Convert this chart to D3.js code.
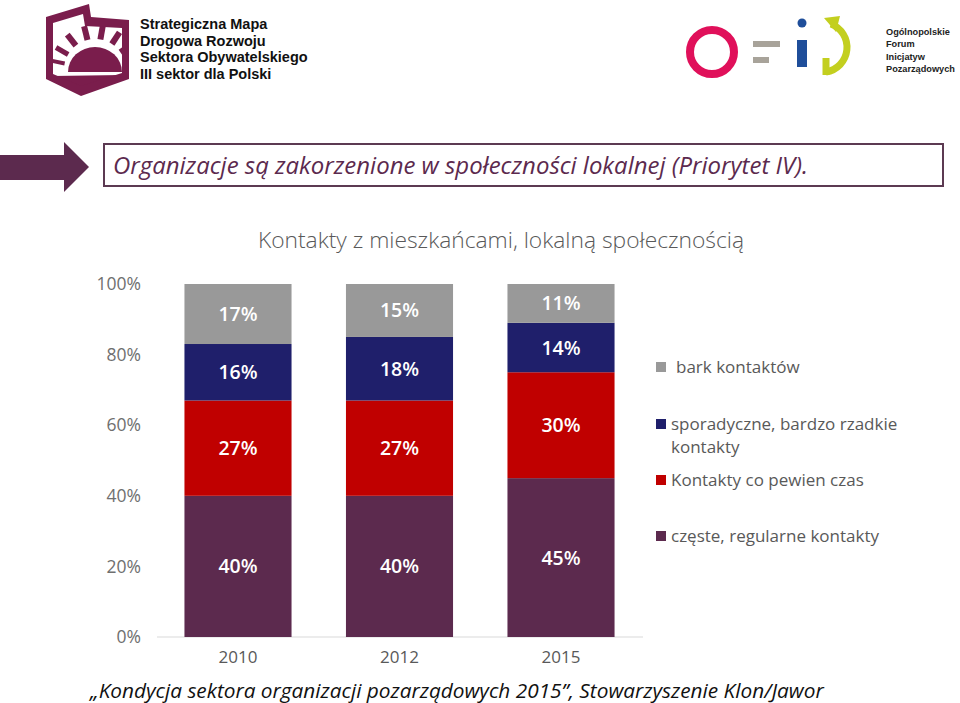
<!DOCTYPE html>
<html><head><meta charset="utf-8">
<script src="https://cdn.jsdelivr.net/npm/d3@7"></script>
<style>
body{margin:0;background:#fff;}
svg{display:block;}
</style></head>
<body>
<svg id="c" width="960" height="703"></svg>
<script>
const years = ["2010","2012","2015"];
const seriesNames = ["częste, regularne kontakty","Kontakty co pewien czas","sporadyczne, bardzo rzadkie kontakty","bark kontaktów"];
const czeste = [40,40,45];
const coPewien = [27,27,30];
const sporadyczne = [16,18,14];
const brak = [17,15,11];
const yTicks = [0,20,40,60,80,100];
const colors = ["#5c2a4e","#c00000","#1f1f6b","#999999"];

const svg = d3.select("#c");
const font = "'Open Sans', 'Noto Sans', sans-serif";
const logoFont = "'Liberation Sans', Arial, sans-serif";

// ---------- Logos ----------
const lg = svg.append("g");
const plum = "#7a1d4c";
lg.append("path").attr("d","M68,72 A27,25 0 0 1 122,72 Z").attr("fill",plum);
lg.append("path").attr("d","M53,76 L122,75 L122,79 L81,90 L53,80 Z").attr("fill",plum);
const rays = [[-168,4],[-150,5],[-128,6],[-104,6],[-80,6],[-57,6],[-35,6]];
rays.forEach(([a,w])=>{
  const r=a*Math.PI/180, cx=95, cy=70;
  lg.append("line").attr("x1",cx+31*Math.cos(r)).attr("y1",cy+31*Math.sin(r))
    .attr("x2",cx+45*Math.cos(r)).attr("y2",cy+45*Math.sin(r))
    .attr("stroke",plum).attr("stroke-width",w);
});
lg.append("rect").attr("x",0).attr("y",0).attr("width",46).attr("height",100).attr("fill","#fff");
lg.append("rect").attr("x",129).attr("y",0).attr("width",10).attr("height",100).attr("fill","#fff");
lg.append("path").attr("d","M46,17 L89,4 L91,17 L129,20 L129,79 L81,96 L46,79 Z M53,23 L83,14 L85,26 L122,28 L122,73 L81,86 L53,74 Z")
  .attr("fill",plum).attr("fill-rule","evenodd");
["Strategiczna Mapa","Drogowa Rozwoju","Sektora Obywatelskiego","III sektor dla Polski"].forEach((t,i)=>{
  lg.append("text").attr("x",140).attr("y",29+i*16.6).text(t)
    .attr("font-family",logoFont).attr("font-size",14.5).attr("font-weight",700).attr("fill","#111");
});
// right logo
lg.append("circle").attr("cx",712).attr("cy",52).attr("r",22).attr("fill","none").attr("stroke","#e0105a").attr("stroke-width",8);
lg.append("rect").attr("x",753).attr("y",41).attr("width",27).attr("height",6).attr("fill","#a8a39a");
lg.append("rect").attr("x",753).attr("y",57).attr("width",16).attr("height",6).attr("fill","#a8a39a");
lg.append("circle").attr("cx",802).attr("cy",23).attr("r",4.5).attr("fill","#1f4e9a");
lg.append("rect").attr("x",797).attr("y",40).attr("width",10).attr("height",27).attr("fill","#1f4e9a");
lg.append("path").attr("d","M831,24 A25,25 0 0 1 826,72").attr("fill","none").attr("stroke","#c3cf1f").attr("stroke-width",7);
lg.append("path").attr("d","M824,18 L840,16 L836,32 Z").attr("fill","#c3cf1f");
lg.append("line").attr("x1",826).attr("y1",75).attr("x2",826).attr("y2",58).attr("stroke","#c3cf1f").attr("stroke-width",7);
["Ogólnopolskie","Forum","Inicjatyw","Pozarządowych"].forEach((t,i)=>{
  lg.append("text").attr("x",886).attr("y",35+i*12.4).text(t)
    .attr("font-family",logoFont).attr("font-size",9.2).attr("font-weight",700).attr("fill","#222");
});

// ---------- Title box & arrow ----------
svg.append("path").attr("d","M0,155 L64,155 L64,142 L89,167 L64,192 L64,180 L0,180 Z").attr("fill","#5c2a4e");
svg.append("rect").attr("x",104).attr("y",144).attr("width",839).attr("height",42)
  .attr("fill","#fff").attr("stroke","#5c3a52").attr("stroke-width",2);
svg.append("text").attr("x",113).attr("y",174).text("Organizacje są zakorzenione w społeczności lokalnej (Priorytet IV).")
  .attr("font-family",font).attr("font-style","italic").attr("font-size",23.5).attr("fill","#5c2a4e")
  .attr("textLength",695).attr("lengthAdjust","spacingAndGlyphs");

// ---------- Chart ----------
svg.append("text").attr("x",501).attr("y",248).attr("text-anchor","middle")
  .text("Kontakty z mieszkańcami, lokalną społecznością")
  .attr("font-family",font).attr("font-size",22.8).attr("fill","#595959").attr("font-weight",300);

const y = d3.scaleLinear().domain([0,100]).range([637,284]);
const x = d3.scaleBand().domain(years).range([157,642]).paddingInner(0.337).paddingOuter(0.17);

const rows = years.map((yr,i)=>({year:yr, s0:czeste[i], s1:coPewien[i], s2:sporadyczne[i], s3:brak[i]}));
const stack = d3.stack().keys(["s0","s1","s2","s3"])(rows);

svg.append("line").attr("x1",157).attr("x2",643).attr("y1",y(0)).attr("y2",y(0)).attr("stroke","#d9d9d9").attr("stroke-width",1);

const layers = svg.append("g").selectAll("g").data(stack).join("g").attr("fill",(d,i)=>colors[i]);
layers.selectAll("rect").data(d=>d).join("rect")
  .attr("x",d=>x(d.data.year)).attr("width",x.bandwidth())
  .attr("y",d=>y(d[1])).attr("height",d=>y(d[0])-y(d[1]));
layers.selectAll("text").data(d=>d.map(v=>({v, val:v[1]-v[0]}))).join("text")
  .attr("x",d=>x(d.v.data.year)+x.bandwidth()/2)
  .attr("y",d=>(y(d.v[0])+y(d.v[1]))/2)
  .attr("dy","0.36em").attr("text-anchor","middle")
  .attr("fill","#fff").attr("font-family",font).attr("font-size",19.5).attr("font-weight",600)
  .text(d=>d.val+"%");

const ya = svg.append("g").attr("transform","translate(141,0)")
  .call(d3.axisLeft(y).tickValues(yTicks).tickFormat(d=>d+"%").tickSize(0).tickPadding(0));
ya.select(".domain").remove();
ya.selectAll("text").attr("font-family",font).attr("font-size",17.5).attr("fill","#6f6f6f");

const xa = svg.append("g").attr("transform","translate(0,651)")
  .call(d3.axisBottom(x).tickSize(0).tickPadding(0));
xa.select(".domain").remove();
xa.selectAll("text").attr("font-family",font).attr("font-size",17).attr("fill","#595959");

// ---------- Legend ----------
const legendItems = [
  {i:3, lines:["bark kontaktów"], y:367, tx:676},
  {i:2, lines:["sporadyczne, bardzo rzadkie","kontakty"], y:424, tx:671},
  {i:1, lines:["Kontakty co pewien czas"], y:480, tx:671},
  {i:0, lines:["częste, regularne kontakty"], y:536, tx:671}
];
const lgd = svg.append("g");
legendItems.forEach(it=>{
  lgd.append("rect").attr("x",656).attr("y",it.y-5).attr("width",10).attr("height",10).attr("fill",colors[it.i]);
  it.lines.forEach((l,k)=>{
    lgd.append("text").attr("x",it.tx).attr("y",it.y+k*23).attr("dy","0.35em").text(l)
      .attr("font-family",font).attr("font-size",17).attr("fill","#595959");
  });
});

// ---------- Footer ----------
svg.append("text").attr("x",90).attr("y",698)
  .text("„Kondycja sektora organizacji pozarządowych 2015”, Stowarzyszenie Klon/Jawor")
  .attr("font-family",font).attr("font-style","italic").attr("font-size",20.8).attr("fill","#111");
</script>
</body></html>
